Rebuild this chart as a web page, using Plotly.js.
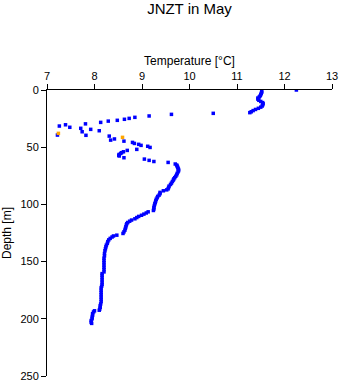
<!DOCTYPE html>
<html>
<head>
<meta charset="utf-8">
<script src="https://cdn.plot.ly/plotly-3.0.1.min.js"></script>
<style>html,body{margin:0;padding:0;background:#fff;}#chart{width:341px;height:384px;}</style>
</head>
<body>
<div id="chart"></div>
<script>
// Blue profile points (depth in m, temperature in °C)
const depth = [
  0, 1.0, 2.0, 3.0, 4.0, 5.0, 6.0, 7.0, 8.0, 9.0, 10.0, 11.0, 12.0, 13.0, 14.0, 15.0, 16.0, 17.0, 18.0, 19.0, 19.8,
  20.4, 21.3, 22.7, 23.9, 24.8, 25.6, 26.5, 27.2, 28.3, 29.6, 30.4, 31.5, 32.6, 33.5, 34.4, 35.6, 36.5, 39.4, 39.6, 40.3,
  42.8, 43.8, 44.7, 45.8, 46.7, 47.5, 48.4, 49.2, 50.2, 51.9, 52.8, 54.0, 54.8, 55.5, 56.3, 57.0, 57.7, 59.2, 60.4, 61.5, 62.5, 63.3,
  64.7, 65.6, 66.5, 67.5, 68.5, 69.5, 70.5, 71.5, 72.9, 74.2, 75.4, 76.6, 77.7, 78.7, 80.0, 81.4, 82.6, 84.0, 85.2, 86.4,
  87.3, 88.1, 89.5, 90.6, 91.9, 93.0, 94.2, 95.5, 96.9, 98.3, 99.5, 101.0, 102.6, 104.0, 105.3,
  106.5, 107.5, 108.5, 109.5, 110.5, 111.5, 112.6, 113.7, 114.7, 115.8, 116.8, 118.0, 119.6, 121.0, 122.5, 124.0, 125.4,
  126.9, 127.6, 128.5, 129.7, 131.0, 132.5, 134.1, 135.6, 137.1, 138.8, 140.5, 142.9, 145.0, 147.0, 149.0, 151.0, 153.0, 155.0, 157.0, 159.0,
  160.5, 162.0, 164.0, 166.0, 168.0, 170.0, 171.5, 173.0, 175.0, 177.0, 179.0, 181.0, 183.0, 185.0, 187.0, 188.5, 190.0, 191.5, 192.5,
  193.0, 194.0, 195.5, 197.0, 198.5, 200.0, 201.5, 203.0, 204.0
];
const temp = [
  12.25, 11.52, 11.52, 11.51, 11.50, 11.49, 11.47, 11.44, 11.44, 11.46, 11.50, 11.54, 11.55, 11.54, 11.53, 11.50, 11.45, 11.39, 11.34, 11.30, 11.27,
  10.50, 9.62, 9.15, 8.85, 8.73, 8.63, 8.48, 8.29, 8.13, 7.81, 7.39, 7.26, 7.48, 7.71, 7.92, 8.10, 7.74, 7.22, 7.82, 8.31,
  8.42, 8.34, 8.62, 8.80, 8.84, 8.93, 8.98, 9.12, 9.17, 8.89, 8.69, 8.61, 8.57, 8.55, 8.52, 8.51, 8.52, 8.62, 9.05, 9.15, 9.25, 9.55,
  9.70, 9.73, 9.74, 9.75, 9.76, 9.77, 9.77, 9.76, 9.74, 9.73, 9.71, 9.69, 9.67, 9.66, 9.64, 9.62, 9.60, 9.57, 9.56, 9.55,
  9.52, 9.45, 9.38, 9.38, 9.36, 9.33, 9.32, 9.30, 9.29, 9.28, 9.27, 9.26, 9.25, 9.25, 9.24,
  9.13, 9.09, 9.04, 8.99, 8.93, 8.89, 8.85, 8.78, 8.74, 8.70, 8.68, 8.67, 8.66, 8.65, 8.64, 8.62, 8.60,
  8.47, 8.40, 8.37, 8.33, 8.30, 8.28, 8.27, 8.25, 8.24, 8.23, 8.22, 8.21, 8.21, 8.20, 8.20, 8.20, 8.20, 8.20, 8.20, 8.20,
  8.16, 8.16, 8.16, 8.16, 8.16, 8.16, 8.15, 8.14, 8.14, 8.14, 8.14, 8.14, 8.14, 8.14, 8.13, 8.12, 8.12, 8.11, 8.10,
  8.00, 7.98, 7.96, 7.96, 7.95, 7.95, 7.93, 7.93, 7.94
];
// Orange (flagged) points
const orangeDepth = [37.9, 41.4];
const orangeTemp = [7.24, 8.59];

const xTicks = [7, 8, 9, 10, 11, 12, 13];
const yTicks = [0, 50, 100, 150, 200, 250];

const font = "Liberation Sans, Arial, sans-serif";

const traces = [
  {x: temp, y: depth, type: 'scatter', mode: 'markers',
   marker: {symbol: 'square', size: 3.5, color: '#0000ff', line: {width: 0}},
   hoverinfo: 'none', showlegend: false},
  {x: orangeTemp, y: orangeDepth, type: 'scatter', mode: 'markers',
   marker: {symbol: 'square', size: 3.5, color: '#ffa500', line: {width: 0}},
   hoverinfo: 'none', showlegend: false}
];

const layout = {
  width: 341, height: 384,
  margin: {l: 47, r: 9, t: 90, b: 8, pad: 0},
  paper_bgcolor: '#fff', plot_bgcolor: '#fff',
  font: {family: font, color: '#000', size: 11},
  title: {text: 'JNZT in May', font: {family: font, size: 15, color: '#000'},
          xref: 'paper', x: 0.5, xanchor: 'center', yref: 'container', y: 0.977, yanchor: 'middle'},
  xaxis: {
    side: 'top', range: [7, 13], tickvals: xTicks, ticktext: xTicks.map(String),
    ticks: 'outside', ticklen: 5, tickwidth: 1, tickcolor: '#000',
    showline: true, linecolor: '#000', linewidth: 1, showgrid: false, zeroline: false,
    tickfont: {family: font, size: 11, color: '#000'},
    title: {text: 'Temperature [°C]', font: {family: font, size: 12, color: '#000'}, standoff: 1},
    automargin: false, fixedrange: true
  },
  yaxis: {
    range: [250, 0], tickvals: yTicks, ticktext: yTicks.map(String),
    ticks: 'outside', ticklen: 5, tickwidth: 1, tickcolor: '#000',
    showline: true, linecolor: '#000', linewidth: 1, showgrid: false, zeroline: false,
    tickfont: {family: font, size: 11, color: '#000'},
    title: {text: 'Depth [m]', font: {family: font, size: 12, color: '#000'}, standoff: 7},
    automargin: false, fixedrange: true
  }
};

Plotly.newPlot('chart', traces, layout, {staticPlot: true, displayModeBar: false});
</script>
</body>
</html>
